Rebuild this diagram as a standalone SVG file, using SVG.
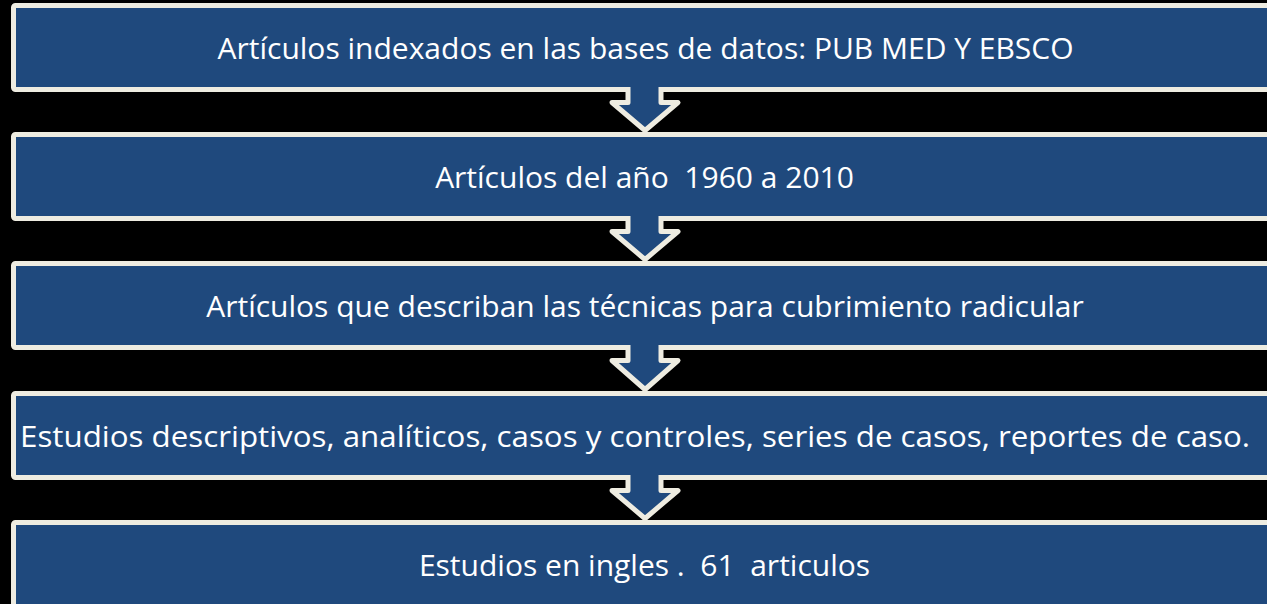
<svg xmlns="http://www.w3.org/2000/svg" width="1267" height="604" viewBox="0 0 1267 604">
<style>
.box{fill:#1F497D;stroke:#EEECE1;stroke-width:5}
.lbl{font-family:"Open Sans","Liberation Sans",sans-serif;font-size:30px;fill:#FFFFFF;text-anchor:middle;white-space:pre}
.af{fill:#1F497D;stroke:none}
.ao{fill:none;stroke:#EEECE1;stroke-width:5;stroke-linejoin:round}
</style>
<rect width="1267" height="604" fill="#000000"/>
<g id="node1"><rect class="box" x="13.5" y="5.5" width="1263" height="84" rx="2"/><text class="lbl" x="645.5" y="59">Artículos indexados en las bases de datos: PUB MED Y EBSCO</text></g>
<g id="node2"><rect class="box" x="13.5" y="134.5" width="1263" height="84" rx="2"/><text class="lbl" x="644.5" y="188">Artículos del año  1960 a 2010</text></g>
<g id="node3"><rect class="box" x="13.5" y="263.5" width="1263" height="84" rx="2"/><text class="lbl" x="645" y="317">Artículos que describan las técnicas para cubrimiento radicular</text></g>
<g id="node4"><rect class="box" x="13.5" y="393.5" width="1263" height="84" rx="2"/><text class="lbl" x="635" y="447" textLength="1230" lengthAdjust="spacingAndGlyphs">Estudios descriptivos, analíticos, casos y controles, series de casos, reportes de caso.</text></g>
<g id="node5"><rect class="box" x="13.5" y="522.5" width="1263" height="84" rx="2"/><text class="lbl" x="644.5" y="576">Estudios en ingles .  61  articulos</text></g>
<g id="connectors">
<g id="c1"><path class="af" d="M628,82 V102.5 H612 L645,130.5 L678,102.5 H661 V82 Z"/><path class="ao" d="M628,87 V102.5 H612 L645,130.5 L678,102.5 H661 V87"/></g>
<g id="c2"><path class="af" d="M628,211 V231.5 H612 L645,259.5 L678,231.5 H661 V211 Z"/><path class="ao" d="M628,216 V231.5 H612 L645,259.5 L678,231.5 H661 V216"/></g>
<g id="c3"><path class="af" d="M628,340 V360.5 H612 L645,389.5 L678,360.5 H661 V340 Z"/><path class="ao" d="M628,345 V360.5 H612 L645,389.5 L678,360.5 H661 V345"/></g>
<g id="c4"><path class="af" d="M628,470 V490.5 H612 L645,518.5 L678,490.5 H661 V470 Z"/><path class="ao" d="M628,475 V490.5 H612 L645,518.5 L678,490.5 H661 V475"/></g>
</g>
</svg>
